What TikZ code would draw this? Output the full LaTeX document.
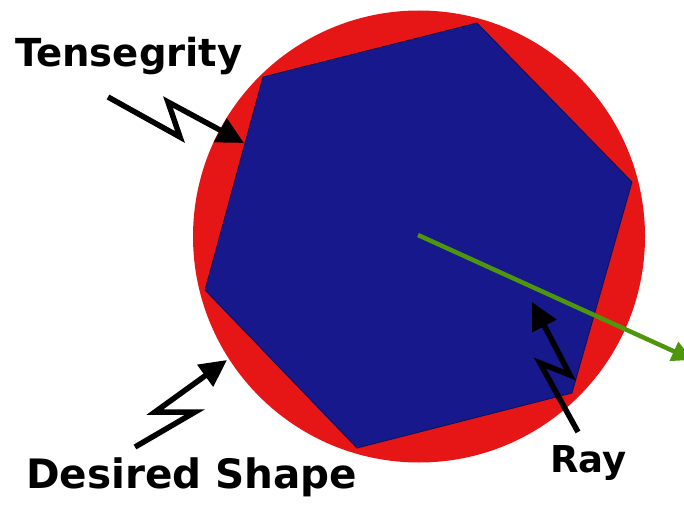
\documentclass[tikz,border=0pt]{standalone}
\usepackage{fontspec}
\setmainfont{DejaVu Sans}
\usetikzlibrary{arrows.meta}
\definecolor{shapered}{RGB}{230,22,22}
\definecolor{tensblue}{RGB}{22,24,140}
\definecolor{tensedge}{RGB}{14,16,90}
\definecolor{raygreen}{RGB}{78,150,12}
\begin{document}
\begin{tikzpicture}[x=1pt,y=-1pt,
  txt/.style={anchor=base west, inner sep=0pt, outer sep=0pt},
  bolt/.style={line width=5.5pt, black, line join=miter, -{Triangle[length=27pt,width=26pt]}},
  raystyle/.style={line width=4.5pt, raygreen, -{Triangle[length=21pt,width=20pt]}},
]
\useasboundingbox (0,0) rectangle (684,505);
\clip (0,0) rectangle (684,505);
% desired shape (circle)
\node[circle, fill=shapered, minimum size=452pt, inner sep=0pt] (desired) at (419,236.5) {};
% tensegrity (hexagon)
\filldraw[fill=tensblue, draw=tensedge, line width=0.8pt, line join=miter]
  (263,77) -- (477,23) -- (632,182) -- (572,393) -- (357,448) -- (205,290) -- cycle;
% labels
\node[txt, font=\bfseries\fontsize{38.6}{40}\selectfont] (tens) at (15,67) {Tensegrity};
\node[txt, font=\bfseries\fontsize{40.5}{42}\selectfont] (dlab) at (26,488) {Desired Shape};
\node[txt, font=\bfseries\fontsize{37}{40}\selectfont] (rlab) at (550,472) {Ray};
% ray
\coordinate (rc) at (418,235);
\coordinate (re) at (693,360);
\draw[raystyle] (rc) -- (re);
% lightning arrows
\coordinate (t0) at (108,97);
\coordinate (t1) at (180,137);
\coordinate (t2) at (168,102);
\coordinate (t3) at (244,143);
\draw[bolt] (t0) -- (t1) -- (t2) -- (t3);
\coordinate (d0) at (135,447);
\coordinate (d1) at (195,412);
\coordinate (d2) at (155,412);
\coordinate (d3) at (227,360);
\draw[bolt] (d0) -- (d1) -- (d2) -- (d3);
\coordinate (r0) at (578,432);
\coordinate (r1) at (540,363);
\coordinate (r2) at (570,375);
\coordinate (r3) at (532,302);
\draw[bolt] (r0) -- (r1) -- (r2) -- (r3);
\end{tikzpicture}
\end{document}
